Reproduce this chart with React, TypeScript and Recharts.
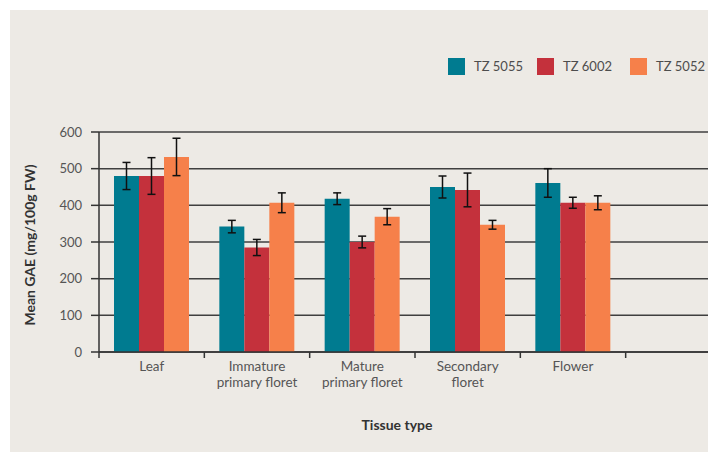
import React from 'react';
import { BarChart, Bar, XAxis, YAxis, CartesianGrid, ErrorBar, Legend } from 'recharts';

const CATEGORIES = ['Leaf', 'Immature primary floret', 'Mature primary floret', 'Secondary floret', 'Flower', ''];
const TICK_LINES: string[][] = [
  ['Leaf'],
  ['Immature', 'primary floret'],
  ['Mature', 'primary floret'],
  ['Secondary', 'floret'],
  ['Flower'],
  [],
];
const Y_TICKS = [0, 100, 200, 300, 400, 500, 600];

const TZ5055 = [480, 342, 418, 450, 461];
const TZ5055_ERR = [37, 17, 16, 30, 39];
const TZ6002 = [480, 285, 300, 442, 407];
const TZ6002_ERR = [50, 22, 16, 46, 15];
const TZ5052 = [532, 407, 369, 347, 407];
const TZ5052_ERR = [51, 27, 22, 12, 19];

const SERIES = [
  { key: 'tz5055', name: 'TZ 5055', color: '#007B90' },
  { key: 'tz6002', name: 'TZ 6002', color: '#C4313C' },
  { key: 'tz5052', name: 'TZ 5052', color: '#F6804A' },
];

const pick = (arr: number[], i: number) => (i < arr.length ? arr[i] : null);

const data = CATEGORIES.map((name, i) => ({
  name,
  tz5055: pick(TZ5055, i),
  tz5055Err: pick(TZ5055_ERR, i),
  tz6002: pick(TZ6002, i),
  tz6002Err: pick(TZ6002_ERR, i),
  tz5052: pick(TZ5052, i),
  tz5052Err: pick(TZ5052_ERR, i),
}));

const FONT = 'Lato, "Open Sans", sans-serif';
const CHART_W = 732;
const CHART_H = 452;
const MARGIN = { top: 132, right: 1, left: 39, bottom: 40 };
const Y_AXIS_W = 60;
const PLOT_W = CHART_W - MARGIN.left - MARGIN.right - Y_AXIS_W;
const HALF_BAND = PLOT_W / CATEGORIES.length / 2;
const AXIS_COLOR = '#333333';

const XTick = (props: any) => {
  const { x, y, index } = props;
  const lines = TICK_LINES[index] ?? [];
  return (
    <g>
      <line x1={x - HALF_BAND} x2={x - HALF_BAND} y1={y - 6} y2={y} stroke={AXIS_COLOR} strokeWidth={1.5} />
      <text x={x} y={y} textAnchor="middle" fill="#555555" fontSize={13.5} fontFamily={FONT}>
        {lines.map((l, i) => (
          <tspan key={i} x={x} dy={i === 0 ? 12.5 : 16.5}>
            {l}
          </tspan>
        ))}
      </text>
    </g>
  );
};

const renderLegend = () => (
  <div
    style={{
      display: 'flex',
      alignItems: 'center',
      fontFamily: FONT,
      fontSize: 13,
      color: '#4d4d4d',
      whiteSpace: 'nowrap',
    }}
  >
    {SERIES.map((s, i) => (
      <div key={s.key} style={{ display: 'flex', alignItems: 'center', flexShrink: 0, marginRight: i === 0 ? 14 : 18 }}>
        <div style={{ width: 17, height: 17, background: s.color, marginRight: 9, flexShrink: 0 }} />
        <span style={{ lineHeight: '17px' }}>{s.name}</span>
      </div>
    ))}
  </div>
);

export default function App() {
  return (
    <div style={{ position: 'fixed', left: 0, top: 0, width: 708, height: 452, overflow: 'hidden', background: '#ffffff' }}>
      <div style={{ position: 'absolute', left: 10, top: 10, right: 0, bottom: 0, background: '#EDEAE5' }} />
      <div style={{ position: 'absolute', left: 0, top: 0 }}>
        <BarChart width={CHART_W} height={CHART_H} data={data} margin={MARGIN} barGap={0} barSize={25}>
          <CartesianGrid vertical={false} stroke="#3f3f3f" strokeWidth={1.5} />
          <XAxis
            dataKey="name"
            interval={0}
            height={60}
            tickSize={6}
            tickMargin={0}
            tickLine={false}
            axisLine={{ stroke: AXIS_COLOR, strokeWidth: 1.5 }}
            tick={<XTick />}
            label={{
              content: (p: any) => {
                const vb = p.viewBox || { x: 0, y: 0, width: 0, height: 0 };
                return (
                  <text
                    x={vb.x + 298}
                    y={vb.y + 78}
                    textAnchor="middle"
                    fill="#333333"
                    fontSize={14}
                    fontWeight={700}
                    fontFamily={FONT}
                  >
                    Tissue type
                  </text>
                );
              },
            }}
          />
          <YAxis
            width={Y_AXIS_W}
            domain={[0, 600]}
            ticks={Y_TICKS}
            tickSize={8}
            tickMargin={9}
            axisLine={{ stroke: AXIS_COLOR, strokeWidth: 1.5 }}
            tickLine={{ stroke: AXIS_COLOR, strokeWidth: 1.5 }}
            tick={{ fill: '#555555', fontSize: 13, fontFamily: FONT }}
            label={{
              content: (p: any) => {
                const vb = p.viewBox || { x: 0, y: 0, width: 0, height: 0 };
                const cx = 29;
                const cy = vb.y + vb.height / 2 + 3;
                return (
                  <text
                    x={cx}
                    y={cy}
                    transform={`rotate(-90, ${cx}, ${cy})`}
                    textAnchor="middle"
                    dominantBaseline="central"
                    fill="#333333"
                    fontSize={14}
                    fontWeight={700}
                    fontFamily={FONT}
                  >
                    Mean GAE (mg/100g FW)
                  </text>
                );
              },
            }}
          />
          <Legend
            layout="horizontal"
            verticalAlign="middle"
            align="center"
            content={renderLegend}
            wrapperStyle={{ top: 58, left: 448, width: 260 }}
          />
          {SERIES.map((s) => (
            <Bar key={s.key} dataKey={s.key} name={s.name} fill={s.color} isAnimationActive={false}>
              <ErrorBar dataKey={`${s.key}Err`} width={4} stroke="#111111" strokeWidth={1.5} isAnimationActive={false} />
            </Bar>
          ))}
        </BarChart>
      </div>
    </div>
  );
}
